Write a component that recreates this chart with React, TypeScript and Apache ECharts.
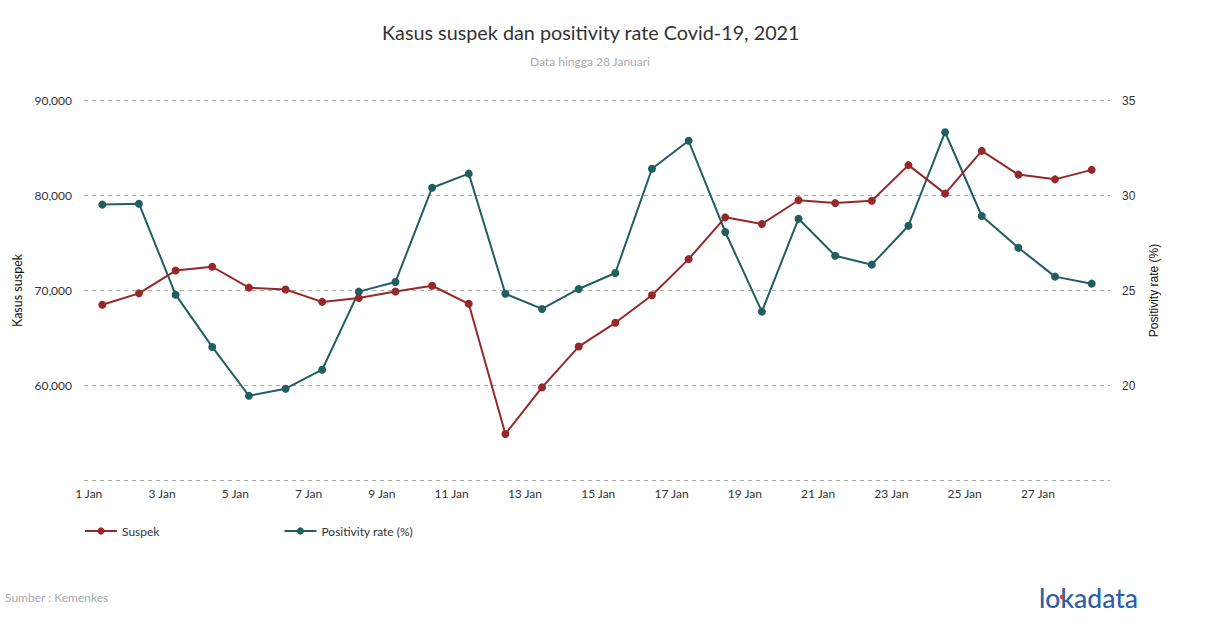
import React, { useEffect, useRef } from "react";
import * as echarts from "echarts";

const days: string[] = [
  "1 Jan", "2 Jan", "3 Jan", "4 Jan", "5 Jan", "6 Jan", "7 Jan", "8 Jan", "9 Jan", "10 Jan",
  "11 Jan", "12 Jan", "13 Jan", "14 Jan", "15 Jan", "16 Jan", "17 Jan", "18 Jan", "19 Jan", "20 Jan",
  "21 Jan", "22 Jan", "23 Jan", "24 Jan", "25 Jan", "26 Jan", "27 Jan", "28 Jan",
];

const suspek: number[] = [
  68500, 69700, 72100, 72500, 70300, 70100, 68800, 69200, 69900, 70500,
  68600, 54900, 59800, 64100, 66600, 69500, 73300, 77700, 77000, 79500,
  79200, 79450, 83200, 80200, 84700, 82200, 81700, 82700,
];

const positivity: number[] = [
  29.52, 29.57, 24.78, 22.03, 19.46, 19.83, 20.83, 24.94, 25.45, 30.41,
  31.15, 24.83, 24.03, 25.08, 25.92, 31.41, 32.88, 28.08, 23.89, 28.78,
  26.83, 26.36, 28.41, 33.33, 28.92, 27.25, 25.73, 25.36,
];

const RED = "#952828";
const TEAL = "#215e60";
const FONT = "Lato, 'Noto Sans', sans-serif";

export default function App() {
  const ref = useRef<HTMLDivElement>(null);
  useEffect(() => {
    if (!ref.current) return;
    const chart = echarts.init(ref.current, undefined, { renderer: "svg" });
    chart.setOption({
      animation: false,
      backgroundColor: "#ffffff",
      textStyle: { fontFamily: FONT },
      grid: { left: 84, right: 100, top: 100.5, bottom: 147.5, containLabel: false },
      graphic: [
        {
          type: "text",
          left: 382,
          top: 22,
          style: {
            text: "Kasus suspek dan positivity rate Covid-19, 2021",
            font: "19.8px " + FONT,
            fill: "#333333",
          },
        },
        {
          type: "text",
          left: 530,
          top: 55,
          style: { text: "Data hingga 28 Januari", font: "12px " + FONT, fill: "#aaaaaa" },
        },
        {
          type: "text",
          left: 5,
          top: 591,
          style: { text: "Sumber : Kemenkes", font: "12px " + FONT, fill: "#aaaaaa" },
        },
        {
          type: "text",
          left: 1039,
          top: 584,
          style: { text: "lokadata", font: "500 26.5px " + FONT, fill: "#2b5fa8" },
        },
        {
          type: "circle",
          shape: { cx: 1062, cy: 597, r: 2.2 },
          style: { fill: "#e03a2e" },
        },
      ],
      legend: {
        left: 79,
        top: 520,
        itemWidth: 32,
        itemHeight: 9,
        itemGap: 124,
        textStyle: { fontFamily: FONT, fontSize: 12, color: "#333333" },
        data: ["Suspek", "Positivity rate (%)"],
      },
      xAxis: {
        type: "category",
        data: days,
        boundaryGap: true,
        axisLine: { show: false },
        axisTick: { show: false },
        axisLabel: {
          interval: 1,
          align: "right",
          margin: 7,
          color: "#333333",
          fontFamily: FONT,
          fontSize: 12,
        },
      },
      yAxis: [
        {
          type: "value",
          min: 50000,
          max: 90000,
          interval: 10000,
          name: "Kasus suspek",
          nameLocation: "middle",
          nameGap: 54,
          nameTextStyle: { fontFamily: FONT, fontSize: 12.5, color: "#111111" },
          axisLine: { show: false },
          axisTick: { show: false },
          axisLabel: {
            margin: 12,
            color: "#333333",
            fontFamily: FONT,
            fontSize: 12,
            formatter: (v: number) => (v === 50000 ? "" : v.toLocaleString("en-US")),
          },
          splitLine: { show: true, lineStyle: { type: [4, 4], color: "#aaaaaa", width: 1 } },
        },
        {
          type: "value",
          min: 15,
          max: 35,
          interval: 5,
          name: "Positivity rate (%)",
          nameLocation: "middle",
          nameGap: 38,
          nameRotate: 90,
          nameTextStyle: { fontFamily: "'Liberation Sans', Arial, sans-serif", fontSize: 12, color: "#111111" },
          axisLine: { show: false },
          axisTick: { show: false },
          axisLabel: {
            margin: 12,
            color: "#333333",
            fontFamily: "'Liberation Sans', Arial, sans-serif",
            fontSize: 12,
            formatter: (v: number) => (v === 15 ? "" : String(v)),
          },
          splitLine: { show: false },
        },
      ],
      series: [
        {
          name: "Suspek",
          type: "line",
          yAxisIndex: 0,
          data: suspek,
          color: RED,
          symbol: "circle",
          symbolSize: 8,
          lineStyle: { width: 2, color: RED },
          itemStyle: { color: RED },
          z: 3,
        },
        {
          name: "Positivity rate (%)",
          type: "line",
          yAxisIndex: 1,
          data: positivity,
          color: TEAL,
          symbol: "circle",
          symbolSize: 8,
          lineStyle: { width: 2, color: TEAL },
          itemStyle: { color: TEAL },
          z: 2,
        },
      ],
    });
    return () => chart.dispose();
  }, []);
  return (
    <div
      ref={ref}
      style={{ position: "fixed", left: 0, top: 0, width: 1210, height: 628 }}
    />
  );
}
